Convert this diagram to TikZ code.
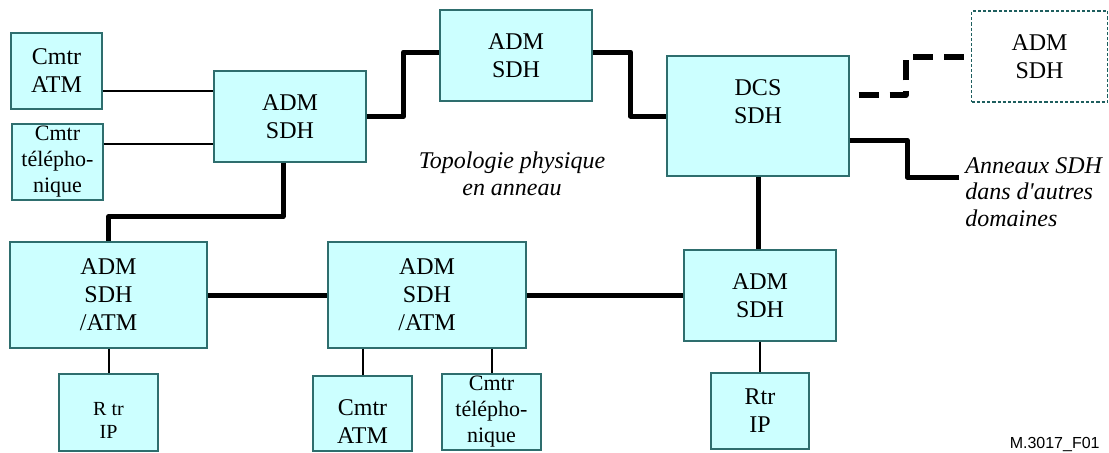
\documentclass[tikz,border=0pt]{standalone}
\usepackage{fontspec}
\setmainfont{Liberation Serif}
\setsansfont{Liberation Sans}
\usetikzlibrary{calc}

\begin{document}
\begin{tikzpicture}[x=0.5pt, y=-0.5pt,
    box/.style={draw=borderColour, fill=fillColour, line width=0.6pt, align=center, inner sep=0pt, font=\fontsize{12}{14}\selectfont},
    smallBox/.style={box, font=\fontsize{11}{13}\selectfont},
    ghostBox/.style={box, draw=ghostColour, fill=white, dash pattern=on 1.6pt off 1pt},
    ringLink/.style={line width=2.5pt, line join=round},
    accessLink/.style={line width=1pt},
    note/.style={font=\itshape\fontsize{12}{13.3}\selectfont, inner sep=0pt}]
    % Define colors
    \definecolor{borderColour}{HTML}{2E6E6E}
    \definecolor{fillColour}{HTML}{CCFFFF}
    \definecolor{ghostColour}{HTML}{1E5E5E}

    % Fix the picture size
    \useasboundingbox (0,0) rectangle (1109,452);

    % Top row of nodes
    \node[box, minimum width=45.5pt, minimum height=38pt] (cmtrAtm) at (56.5,71) {Cmtr\\ATM};
    \node[smallBox, minimum width=45.5pt, minimum height=38pt] (cmtrTel) at (57.5,162) {Cmtr\\télépho-\\nique};
    \node[box, minimum width=76pt, minimum height=45.5pt] (admLeft) at (290,116.5) {ADM\\SDH};
    \node[box, minimum width=76pt, minimum height=45.5pt] (admTop) at (516,55.5) {ADM\\SDH};
    \node[box, minimum width=91pt, minimum height=60pt, text depth=14pt] (dcs) at (758,116) {DCS\\SDH};
    \node[ghostBox, minimum width=68pt, minimum height=45.5pt] (admFar) at (1039.5,56.5) {ADM\\SDH};

    % Bottom row of nodes
    \node[box, minimum width=98.5pt, minimum height=53pt] (admAtmA) at (108.5,295) {ADM\\SDH\\/ATM};
    \node[box, minimum width=99pt, minimum height=53pt] (admAtmB) at (427,295) {ADM\\SDH\\/ATM};
    \node[box, minimum width=76pt, minimum height=45.5pt] (admRight) at (760,295.5) {ADM\\SDH};
    \node[box, font=\fontsize{10}{11.5}\selectfont, minimum width=49.5pt, minimum height=38.5pt, text height=26pt] (rtrA) at (108.5,412.5) {R tr\\IP};
    \node[box, minimum width=49.5pt, minimum height=37.5pt, text height=30pt] (cmtrAtmB) at (362.5,413.5) {Cmtr\\ATM};
    \node[smallBox, minimum width=49.5pt, minimum height=38pt] (cmtrTelB) at (491.5,412) {Cmtr\\télépho-\\nique};
    \node[box, minimum width=49pt, minimum height=38pt] (rtrB) at (760,411) {Rtr\\IP};

    % Draw access links
    \draw[accessLink] (cmtrAtm.east |- 0,91) -- (admLeft.west |- 0,91);
    \draw[accessLink] (cmtrTel.east |- 0,144) -- (admLeft.west |- 0,144);
    \draw[accessLink] (rtrA.north |- admAtmA.south) -- (rtrA.north);
    \draw[accessLink] (cmtrAtmB.north |- admAtmB.south) -- (cmtrAtmB.north);
    \draw[accessLink] (cmtrTelB.north |- admAtmB.south) -- (cmtrTelB.north);
    \draw[accessLink] (admRight.south) -- (rtrB.north);

    % Draw the ring
    \draw[ringLink] ($(admLeft.south)+(-7,0)$) -- ++(0,54) -| (admAtmA.north);
    \draw[ringLink] (admLeft.east) -| ($(admTop.west)+(-36,-3.5)$) -- ($(admTop.west)+(0,-3.5)$);
    \draw[ringLink] ($(admTop.east)+(0,-3.5)$) -| ($(dcs.west)+(-36,0)$) -- (dcs.west);
    \draw[ringLink] (dcs.south) -- (dcs.south |- admRight.north);
    \draw[ringLink] (admAtmA) -- (admAtmB);
    \draw[ringLink] (admAtmB.east) -- (admAtmB.east -| admRight.west);

    % Links to other domains
    \draw[ringLink, line width=3pt, dash pattern=on 10pt off 5.5pt, dash phase=11pt] ($(dcs.east)+(0,-21)$) -| ($(admFar.west)+(-65,0)$) -- (admFar.west);
    \coordinate (anneauxEnd) at (959,177);
    \draw[ringLink] ($(dcs.east)+(0,24)$) -| ($(anneauxEnd)+(-52,0)$) -- (anneauxEnd);

    % Labels
    \node[note, align=center] (topologie) at (512,174) {Topologie physique\\en anneau};
    \node[note, align=left, anchor=north west] (anneaux) at (965,157) {Anneaux SDH\\dans d\textquotesingle autres\\domaines};
    \node[font=\sffamily\fontsize{8}{9}\selectfont, anchor=east, inner sep=0pt] (figRef) at (1100,444) {M.3017\_F01};

\end{tikzpicture}
\end{document}
